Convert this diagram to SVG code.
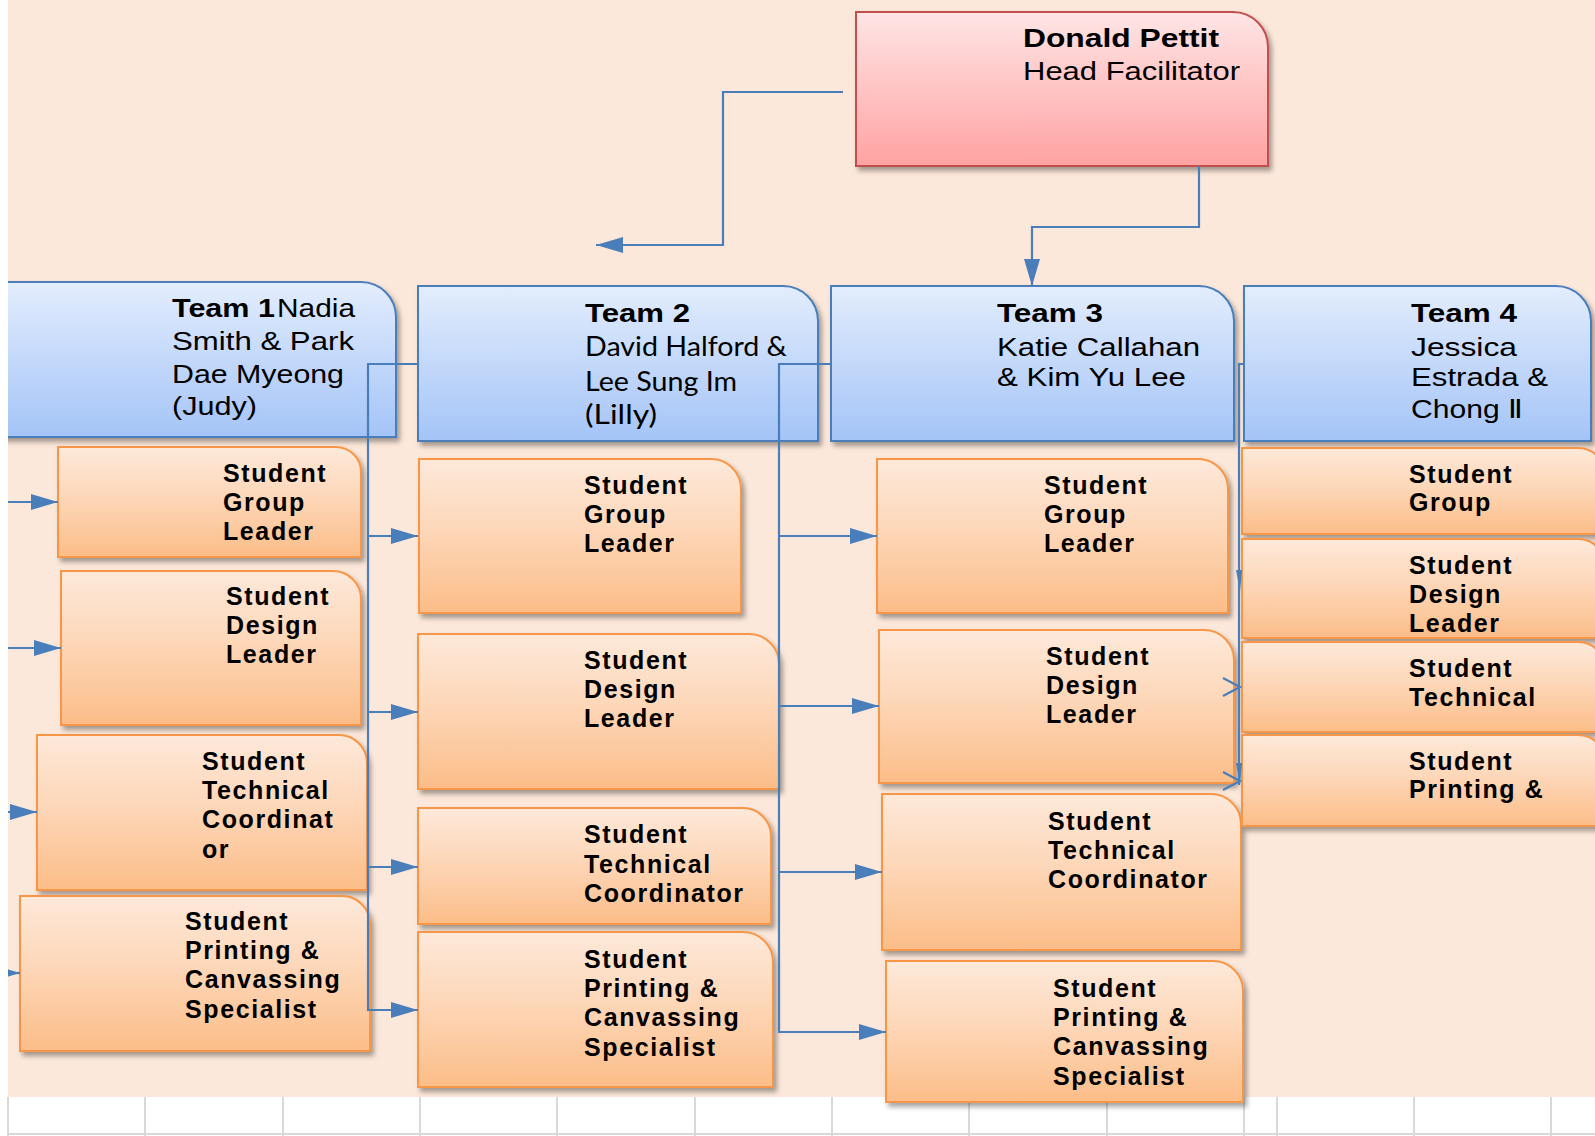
<svg xmlns="http://www.w3.org/2000/svg" width="1595" height="1136" viewBox="0 0 1595 1136">
<defs>
<linearGradient id="gBlue" x1="0" y1="0" x2="0" y2="1"><stop offset="0" stop-color="#e3edfd"/><stop offset="1" stop-color="#a4c4f7"/></linearGradient>
<linearGradient id="gOr" x1="0" y1="0" x2="0" y2="1"><stop offset="0" stop-color="#fde9da"/><stop offset="0.5" stop-color="#fdd5b5"/><stop offset="1" stop-color="#fbbd88"/></linearGradient>
<linearGradient id="gPink" x1="0" y1="0" x2="0" y2="1"><stop offset="0" stop-color="#ffe5e5"/><stop offset="1" stop-color="#ffa2a2"/></linearGradient>
<filter id="sh" x="-10%" y="-10%" width="130%" height="130%"><feDropShadow dx="3" dy="4" stdDeviation="2.5" flood-color="#000" flood-opacity="0.35"/></filter>
<marker id="ar" markerUnits="userSpaceOnUse" markerWidth="27" markerHeight="16" refX="27" refY="8" orient="auto"><path d="M0,0 L27,8 L0,16 Z" fill="#4a7ebb"/></marker>
<style>
.blue{fill:url(#gBlue);stroke:#4a7ebb;stroke-width:2;filter:url(#sh)}
.or{fill:url(#gOr);stroke:#f79646;stroke-width:2;filter:url(#sh)}
.pink{fill:url(#gPink);stroke:#c0504d;stroke-width:2;filter:url(#sh)}
.hd{font-family:"Liberation Sans",Arial,sans-serif;font-size:26px;fill:#000}
.hb{font-weight:bold}
.cal{font-family:Lato,"Liberation Sans",sans-serif;font-size:26px;fill:#000}
.st{font-family:"Liberation Sans",Arial,sans-serif;font-size:25px;font-weight:bold;letter-spacing:1.6px;fill:#000}
.cn{fill:none;stroke:#4a7ebb;stroke-width:2.2}
.grid{stroke:#d9d9d9;stroke-width:2}
</style>
</defs>
<rect x="0" y="0" width="1595" height="1136" fill="#ffffff"/>
<rect x="8" y="0" width="1587" height="1097" fill="#fce8da"/>
<g id="gridlines">
<path class="grid" d="M8,1097V1136M145,1097V1136M283,1097V1136M420,1097V1136M557,1097V1136M695,1097V1136M832,1097V1136M969,1097V1136M1107,1097V1136M1244,1097V1136M1277,1097V1136M1414,1097V1136M1551,1097V1136M8,1134H1595"/>
</g>

<g id="head">
<path class="pink" d="M856,12 H1233 A35,35 0 0 1 1268,47 V166 H856 Z"/>
<text class="hd hb" x="1023" y="47" textLength="196" lengthAdjust="spacingAndGlyphs">Donald Pettit</text>
<text class="hd" x="1023" y="80" textLength="217" lengthAdjust="spacingAndGlyphs">Head Facilitator</text>
</g>

<g id="team1">
<path class="blue" d="M-4,282 H361 A35,35 0 0 1 396,317 V437 H-4 Z"/>
<text class="hd hb" x="172" y="317" textLength="103" lengthAdjust="spacingAndGlyphs">Team 1</text>
<text class="hd" x="277" y="317" textLength="78" lengthAdjust="spacingAndGlyphs">Nadia</text>
<text class="hd" x="172" y="350" textLength="182" lengthAdjust="spacingAndGlyphs">Smith &amp; Park</text>
<text class="hd" x="172" y="383" textLength="172" lengthAdjust="spacingAndGlyphs">Dae Myeong</text>
<text class="hd" x="172" y="415" textLength="85" lengthAdjust="spacingAndGlyphs">(Judy)</text>
</g>

<g id="team2">
<path class="blue" d="M418,286 H783 A35,35 0 0 1 818,321 V441 H418 Z"/>
<text class="hd hb" x="585" y="322" textLength="105" lengthAdjust="spacingAndGlyphs">Team 2</text>
<text class="cal" x="585" y="356" textLength="202" lengthAdjust="spacingAndGlyphs">David Halford &amp;</text>
<text class="cal" x="585" y="391" textLength="152" lengthAdjust="spacingAndGlyphs">Lee Sung Im</text>
<text class="cal" x="585" y="424" textLength="72" lengthAdjust="spacingAndGlyphs">(Lilly)</text>
</g>

<g id="team3">
<path class="blue" d="M831,286 H1199 A35,35 0 0 1 1234,321 V441 H831 Z"/>
<text class="hd hb" x="997" y="322" textLength="106" lengthAdjust="spacingAndGlyphs">Team 3</text>
<text class="hd" x="997" y="356" textLength="203" lengthAdjust="spacingAndGlyphs">Katie Callahan</text>
<text class="hd" x="997" y="386" textLength="189" lengthAdjust="spacingAndGlyphs">&amp; Kim Yu Lee</text>
</g>

<g id="team4">
<path class="blue" d="M1244,286 H1556 A35,35 0 0 1 1591,321 V441 H1244 Z"/>
<text class="hd hb" x="1411" y="322" textLength="106" lengthAdjust="spacingAndGlyphs">Team 4</text>
<text class="hd" x="1411" y="356" textLength="106" lengthAdjust="spacingAndGlyphs">Jessica</text>
<text class="hd" x="1411" y="386" textLength="137" lengthAdjust="spacingAndGlyphs">Estrada &amp;</text>
<text class="hd" x="1411" y="418" textLength="112" lengthAdjust="spacingAndGlyphs">Chong Ⅱ</text>
</g>

<g id="t1-group">
<path class="or" d="M58,447 H336 A25,25 0 0 1 361,472 V557 H58 Z"/>
<text class="st" x="223" y="482">Student</text><text class="st" x="223" y="511">Group</text><text class="st" x="223" y="540">Leader</text>
</g>
<g id="t1-design">
<path class="or" d="M61,571 H333 A28,28 0 0 1 361,599 V725 H61 Z"/>
<text class="st" x="226" y="605">Student</text><text class="st" x="226" y="634">Design</text><text class="st" x="226" y="663">Leader</text>
</g>
<g id="t1-tech">
<path class="or" d="M37,735 H339 A28,28 0 0 1 367,763 V890 H37 Z"/>
<text class="st" x="202" y="770">Student</text><text class="st" x="202" y="799">Technical</text><text class="st" x="202" y="828">Coordinat</text><text class="st" x="202" y="858">or</text>
</g>
<g id="t1-print">
<path class="or" d="M20,896 H342 A28,28 0 0 1 370,924 V1051 H20 Z"/>
<text class="st" x="185" y="930">Student</text><text class="st" x="185" y="959">Printing &amp;</text><text class="st" x="185" y="988">Canvassing</text><text class="st" x="185" y="1018">Specialist</text>
</g>

<g id="t2-group">
<path class="or" d="M419,459 H711 A30,30 0 0 1 741,489 V613 H419 Z"/>
<text class="st" x="584" y="494">Student</text><text class="st" x="584" y="523">Group</text><text class="st" x="584" y="552">Leader</text>
</g>
<g id="t2-design">
<path class="or" d="M418,634 H749 A30,30 0 0 1 779,664 V789 H418 Z"/>
<text class="st" x="584" y="669">Student</text><text class="st" x="584" y="698">Design</text><text class="st" x="584" y="727">Leader</text>
</g>
<g id="t2-tech">
<path class="or" d="M418,808 H743 A28,28 0 0 1 771,836 V924 H418 Z"/>
<text class="st" x="584" y="843">Student</text><text class="st" x="584" y="873">Technical</text><text class="st" x="584" y="902">Coordinator</text>
</g>
<g id="t2-print">
<path class="or" d="M418,932 H743 A30,30 0 0 1 773,962 V1087 H418 Z"/>
<text class="st" x="584" y="968">Student</text><text class="st" x="584" y="997">Printing &amp;</text><text class="st" x="584" y="1026">Canvassing</text><text class="st" x="584" y="1056">Specialist</text>
</g>

<g id="t3-group">
<path class="or" d="M877,459 H1198 A30,30 0 0 1 1228,489 V613 H877 Z"/>
<text class="st" x="1044" y="494">Student</text><text class="st" x="1044" y="523">Group</text><text class="st" x="1044" y="552">Leader</text>
</g>
<g id="t3-design">
<path class="or" d="M879,630 H1204 A30,30 0 0 1 1234,660 V783 H879 Z"/>
<text class="st" x="1046" y="665">Student</text><text class="st" x="1046" y="694">Design</text><text class="st" x="1046" y="723">Leader</text>
</g>
<g id="t3-tech">
<path class="or" d="M882,794 H1211 A30,30 0 0 1 1241,824 V950 H882 Z"/>
<text class="st" x="1048" y="830">Student</text><text class="st" x="1048" y="859">Technical</text><text class="st" x="1048" y="888">Coordinator</text>
</g>
<g id="t3-print">
<path class="or" d="M886,961 H1213 A30,30 0 0 1 1243,991 V1102 H886 Z"/>
<text class="st" x="1053" y="997">Student</text><text class="st" x="1053" y="1026">Printing &amp;</text><text class="st" x="1053" y="1055">Canvassing</text><text class="st" x="1053" y="1085">Specialist</text>
</g>

<g id="t4-group">
<path class="or" d="M1242,448 H1578 A28,28 0 0 1 1606,476 V534 H1242 Z"/>
<text class="st" x="1409" y="483">Student</text><text class="st" x="1409" y="511">Group</text>
</g>
<g id="t4-design">
<path class="or" d="M1242,539 H1578 A28,28 0 0 1 1606,567 V638 H1242 Z"/>
<text class="st" x="1409" y="574">Student</text><text class="st" x="1409" y="603">Design</text><text class="st" x="1409" y="632">Leader</text>
</g>
<g id="t4-tech">
<path class="or" d="M1242,642 H1578 A28,28 0 0 1 1606,670 V732 H1242 Z"/>
<text class="st" x="1409" y="677">Student</text><text class="st" x="1409" y="706">Technical</text>
</g>
<g id="t4-print">
<path class="or" d="M1242,735 H1578 A28,28 0 0 1 1606,763 V826 H1242 Z"/>
<text class="st" x="1409" y="770">Student</text><text class="st" x="1409" y="798">Printing &amp;</text>
</g>

<g id="connectors">
<polyline class="cn" points="843,92 723,92 723,245 596,245" marker-end="url(#ar)"/>
<polyline class="cn" points="1199,166 1199,227 1032,227 1032,286" marker-end="url(#ar)"/>
<line class="cn" x1="0" y1="502" x2="58" y2="502" marker-end="url(#ar)"/>
<line class="cn" x1="0" y1="648" x2="61" y2="648" marker-end="url(#ar)"/>
<line class="cn" x1="0" y1="812" x2="37" y2="812" marker-end="url(#ar)"/>
<line class="cn" x1="0" y1="973" x2="20" y2="973" marker-end="url(#ar)"/>
<polyline class="cn" points="418,364 368,364 368,1010 418,1010" marker-end="url(#ar)"/>
<line class="cn" x1="368" y1="536" x2="418" y2="536" marker-end="url(#ar)"/>
<line class="cn" x1="368" y1="712" x2="418" y2="712" marker-end="url(#ar)"/>
<line class="cn" x1="368" y1="867" x2="418" y2="867" marker-end="url(#ar)"/>
<polyline class="cn" points="831,364 779,364 779,1032 886,1032" marker-end="url(#ar)"/>
<line class="cn" x1="779" y1="536" x2="877" y2="536" marker-end="url(#ar)"/>
<line class="cn" x1="779" y1="706" x2="879" y2="706" marker-end="url(#ar)"/>
<line class="cn" x1="779" y1="872" x2="882" y2="872" marker-end="url(#ar)"/>
<polyline class="cn" points="1244,364 1239,364 1239,785"/>
<path d="M1236,570 L1242,570 L1240,592 Z M1236,763 L1242,763 L1240,785 Z" fill="#4a7ebb"/>
<polyline class="cn" points="1223,678 1240,687 1223,696"/>
<polyline class="cn" points="1223,772 1240,781 1223,790"/>
</g>
<rect x="0" y="0" width="8" height="1097" fill="#ffffff"/>
</svg>
